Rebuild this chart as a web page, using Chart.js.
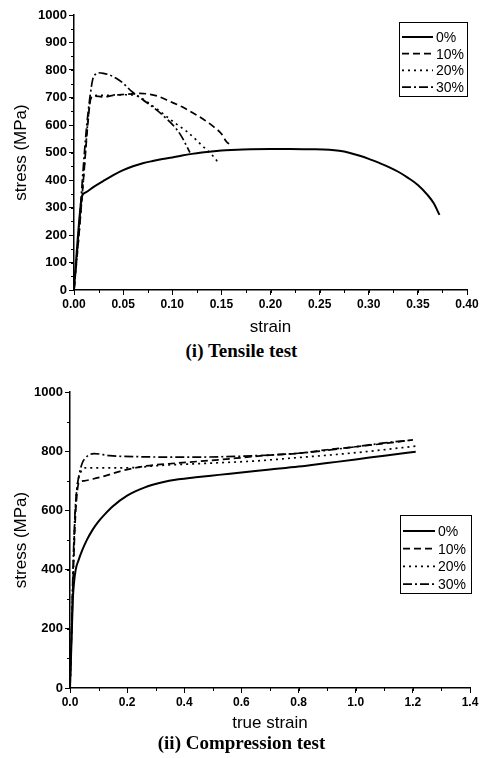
<!DOCTYPE html>
<html>
<head>
<meta charset="utf-8">
<script src="https://cdn.jsdelivr.net/npm/chart.js@4"></script>
<style>
  body { margin: 0; background: #fff; width: 483px; height: 758px; position: relative; overflow: hidden; }
  .box { position: absolute; left: 0; width: 483px; }
  .caption { position: absolute; left: 0; width: 483px; text-align: center;
             font: bold 19px "Liberation Serif", "DejaVu Serif", serif; color: #000; }
</style>
</head>
<body>
<div class="box" style="top:0; height:340px;"><canvas id="tensileChart"></canvas></div>
<div class="caption" style="top:340px;">(i) Tensile test</div>
<div class="box" style="top:374px; height:362px;"><canvas id="compressionChart"></canvas></div>
<div class="caption" style="top:732px;">(ii) Compression test</div>
<script>
// Legend labels (prestrain levels)
const seriesLabels = ['0%', '10%', '20%', '30%'];
const seriesDash = [[], [7, 4], [2, 4], [9, 3, 2, 3]];

// Tensile test data (strain, stress MPa)
const tensileStrain0 = [0, 0.003, 0.006, 0.008, 0.012, 0.02, 0.03, 0.04, 0.05, 0.06, 0.07, 0.08, 0.09, 0.1, 0.11, 0.12, 0.13, 0.14, 0.15, 0.16, 0.18, 0.2, 0.22, 0.24, 0.26, 0.27, 0.28, 0.29, 0.3, 0.31, 0.32, 0.33, 0.34, 0.35, 0.36, 0.366, 0.372];
const tensileStress0 = [0, 150, 280, 340, 355, 375, 397, 418, 436, 450, 461, 469, 476, 482, 489, 495, 500, 504, 507, 509, 512, 513, 513, 512, 510, 506, 499, 489, 477, 463, 448, 430, 408, 382, 345, 316, 273];

const tensileStrain10 = [0, 0.005, 0.01, 0.014, 0.017, 0.02, 0.025, 0.03, 0.04, 0.05, 0.06, 0.067, 0.075, 0.085, 0.098, 0.11, 0.122, 0.132, 0.142, 0.15, 0.155, 0.159];
const tensileStress10 = [0, 200, 420, 600, 695, 705, 704, 702, 708, 711, 713, 715, 713, 705, 685, 666, 642, 620, 594, 568, 540, 528];

const tensileStrain20 = [0, 0.005, 0.01, 0.014, 0.017, 0.02, 0.025, 0.035, 0.045, 0.055, 0.065, 0.072, 0.081, 0.091, 0.101, 0.108, 0.115, 0.122, 0.128, 0.135, 0.142, 0.148];
const tensileStress20 = [0, 200, 420, 610, 698, 706, 708, 708, 710, 710, 705, 690, 667, 640, 612, 594, 576, 554, 533, 510, 485, 458];

const tensileStrain30 = [0, 0.005, 0.0095, 0.013, 0.0163, 0.019, 0.022, 0.025, 0.03, 0.036, 0.043, 0.05, 0.059, 0.07, 0.084, 0.095, 0.105, 0.11, 0.115, 0.118];
const tensileStress30 = [0, 220, 448, 600, 703, 765, 785, 790, 788, 782, 770, 752, 721, 692, 655, 620, 582, 555, 521, 500];

// Compression test data (true strain, stress MPa)
const compStrain0 = [0, 0.005, 0.01, 0.014, 0.02, 0.03, 0.044, 0.06, 0.08, 0.1, 0.12, 0.15, 0.2, 0.26, 0.32, 0.38, 0.44, 0.52, 0.6, 0.7, 0.8, 0.9, 1.0, 1.1, 1.21];
const compStress0 = [0, 150, 300, 355, 400, 432, 468, 502, 536, 563, 585, 614, 650, 677, 694, 705, 712, 720, 728, 738, 748, 760, 772, 785, 798];

const compStrain10 = [0, 0.006, 0.012, 0.018, 0.024, 0.031, 0.05, 0.08, 0.12, 0.175, 0.258, 0.377, 0.52, 0.6, 0.7, 0.8, 0.9, 1.0, 1.1, 1.2];
const compStress10 = [0, 200, 400, 560, 650, 693, 700, 706, 716, 732, 749, 760, 771, 778, 787, 793, 805, 815, 826, 838];

const compStrain20 = [0, 0.006, 0.012, 0.018, 0.025, 0.031, 0.056, 0.1, 0.2, 0.318, 0.52, 0.65, 0.793, 1.0, 1.21];
const compStress20 = [0, 210, 420, 590, 680, 712, 744, 744, 744, 752, 761, 767, 778, 795, 817];

const compStrain30 = [0, 0.006, 0.012, 0.018, 0.025, 0.033, 0.043, 0.055, 0.068, 0.084, 0.139, 0.258, 0.4, 0.52, 0.7, 0.8, 0.9, 1.0, 1.1, 1.2];
const compStress30 = [0, 220, 450, 600, 680, 725, 760, 778, 788, 792, 785, 781, 780, 781, 787, 793, 803, 815, 828, 838];

function zip(xs, ys) {
    return xs.map((x, i) => ({ x: x, y: ys[i] }));
}

function makeDatasets(strains, stresses) {
    return strains.map((s, i) => ({
        label: seriesLabels[i],
        data: zip(s, stresses[i]),
        borderColor: '#000',
        borderWidth: i === 0 ? 2 : 1.7,
        borderDash: seriesDash[i],
        pointRadius: 0,
        cubicInterpolationMode: 'monotone',
        fill: false
    }));
}

// Minor tick marks drawn between major ticks
const minorTicks = {
    id: 'minorTicks',
    afterDraw(chart, args, opts) {
        const ctx = chart.ctx;
        const xs = chart.scales.x, ys = chart.scales.y;
        ctx.save();
        ctx.strokeStyle = '#000';
        ctx.lineWidth = 1;
        ctx.beginPath();
        for (let v = xs.min; v <= xs.max + 1e-9; v += opts.x) {
            const px = Math.round(xs.getPixelForValue(v)) + 0.5;
            ctx.moveTo(px, ys.bottom);
            ctx.lineTo(px, ys.bottom + 3);
        }
        for (let v = ys.min; v <= ys.max + 1e-9; v += opts.y) {
            const py = Math.round(ys.getPixelForValue(v)) + 0.5;
            ctx.moveTo(xs.left, py);
            ctx.lineTo(xs.left - 3, py);
        }
        ctx.stroke();
        ctx.restore();
    }
};

// Boxed legend inside the plot area
const boxLegend = {
    id: 'boxLegend',
    afterDraw(chart, args, opts) {
        const ctx = chart.ctx;
        ctx.save();
        ctx.strokeStyle = '#000';
        ctx.lineWidth = 1;
        ctx.strokeRect(opts.left + 0.5, opts.top + 0.5, opts.width, opts.height);
        ctx.font = '14px "Liberation Sans", Arial, sans-serif';
        ctx.fillStyle = '#000';
        ctx.textBaseline = 'middle';
        chart.data.datasets.forEach((ds, i) => {
            const y = opts.top + opts.firstRow + i * opts.rowH;
            ctx.beginPath();
            ctx.setLineDash(ds.borderDash);
            ctx.lineWidth = ds.borderWidth;
            ctx.moveTo(opts.left + 3, y);
            ctx.lineTo(opts.left + 3 + opts.sample, y);
            ctx.stroke();
            ctx.setLineDash([]);
            ctx.fillText(ds.label, opts.left + 6 + opts.sample, y + 1);
        });
        ctx.restore();
    }
};

const fontFamily = '"Liberation Sans", Arial, sans-serif';
const titleFont = { family: fontFamily, size: 17 };

function axisOptions(min, max, step, digits, title, fontSize, extra) {
    return Object.assign({
        type: 'linear',
        min: min,
        max: max,
        border: { display: true, color: '#000', width: 1.5 },
        grid: { drawOnChartArea: false, drawTicks: true, tickLength: 5, color: '#000' },
        ticks: {
            stepSize: step,
            color: '#000',
            font: { family: fontFamily, size: fontSize, weight: 'bold' },
            padding: 2,
            maxRotation: 0,
            autoSkip: false,
            callback: value => value.toFixed(digits)
        },
        title: { display: true, text: title, color: '#000', font: titleFont, padding: 2 }
    }, extra);
}

// Tensile chart
new Chart(document.getElementById('tensileChart').getContext('2d'), {
    type: 'line',
    data: {
        datasets: makeDatasets(
            [tensileStrain0, tensileStrain10, tensileStrain20, tensileStrain30],
            [tensileStress0, tensileStress10, tensileStress20, tensileStress30])
    },
    options: {
        responsive: true,
        maintainAspectRatio: false,
        animation: false,
        layout: { padding: { left: 9, right: 16, top: 15, bottom: 0 } },
        plugins: {
            legend: { display: false },
            tooltip: { enabled: false },
            minorTicks: { x: 0.025, y: 50 },
            boxLegend: { left: 399, top: 22, width: 68, height: 74, firstRow: 15, rowH: 16.7, sample: 31 }
        },
        scales: {
            x: axisOptions(0, 0.4, 0.05, 2, 'strain', 12, {
                afterFit: scale => { scale.height = 50; }
            }),
            y: axisOptions(0, 1000, 100, 0, 'stress (MPa)', 13, {
                afterFit: scale => { scale.width = 65; }
            })
        }
    },
    plugins: [minorTicks, boxLegend]
});

// Compression chart
new Chart(document.getElementById('compressionChart').getContext('2d'), {
    type: 'line',
    data: {
        datasets: makeDatasets(
            [compStrain0, compStrain10, compStrain20, compStrain30],
            [compStress0, compStress10, compStress20, compStress30])
    },
    options: {
        responsive: true,
        maintainAspectRatio: false,
        animation: false,
        layout: { padding: { left: 9, right: 13, top: 18, bottom: 0 } },
        plugins: {
            legend: { display: false },
            tooltip: { enabled: false },
            minorTicks: { x: 0.1, y: 100 },
            boxLegend: { left: 400, top: 141, width: 71, height: 78, firstRow: 16, rowH: 17.7, sample: 32 }
        },
        scales: {
            x: axisOptions(0, 1.4, 0.2, 1, 'true strain', 12, {
                afterFit: scale => { scale.height = 48; }
            }),
            y: axisOptions(0, 1000, 200, 0, 'stress (MPa)', 13, {
                afterFit: scale => { scale.width = 61; }
            })
        }
    },
    plugins: [minorTicks, boxLegend]
});
</script>
</body>
</html>
